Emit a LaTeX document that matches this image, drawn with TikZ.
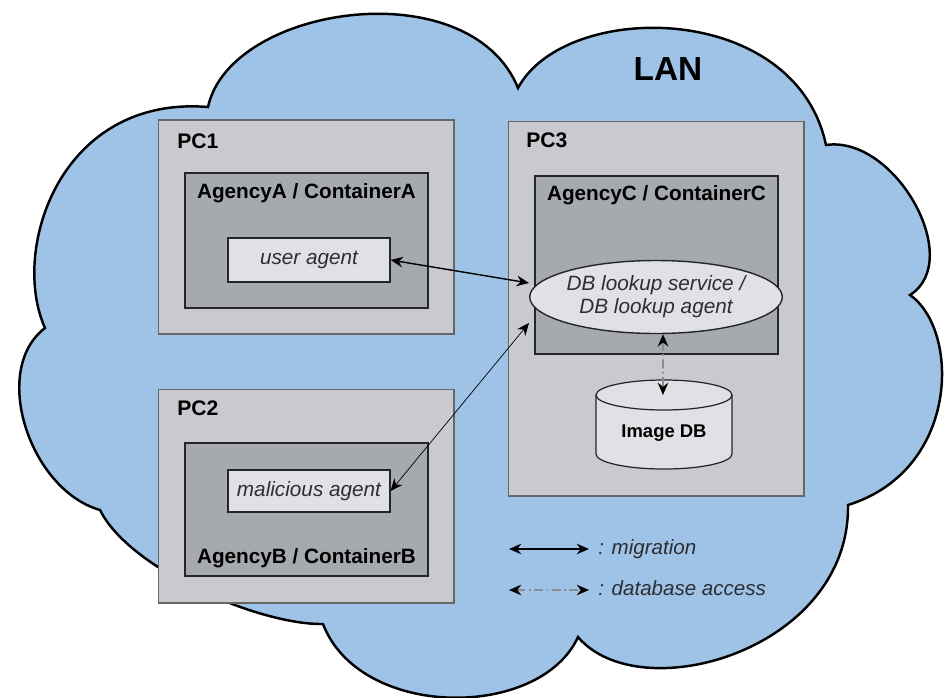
\documentclass[tikz,border=0pt]{standalone}
\usepackage{fontspec}
\setmainfont{Liberation Sans}
\usetikzlibrary{arrows.meta,shapes.geometric}

\definecolor{lanblue}{RGB}{158,195,230}
\definecolor{pcgray}{RGB}{200,202,206}
\definecolor{agencygray}{RGB}{166,169,173}
\definecolor{agentgray}{RGB}{224,225,229}
\definecolor{textgray}{RGB}{45,45,50}

\begin{document}
\begin{tikzpicture}[x=0.02cm, y=-0.02cm,
  pcbox/.style={draw=black!60, line width=0.6pt, fill=pcgray, inner sep=0pt},
  agencybox/.style={draw=black!85, line width=0.7pt, fill=agencygray, inner sep=0pt},
  agentbox/.style={draw=black!85, line width=0.7pt, fill=agentgray, inner sep=0pt,
    font=\fontsize{11.8}{14}\selectfont\itshape, text=textgray},
  pclabel/.style={inner sep=0pt, anchor=base west, font=\fontsize{12}{14}\selectfont\bfseries},
  boxlabel/.style={inner sep=0pt, anchor=base, font=\fontsize{11.8}{14}\selectfont\bfseries},
  migration/.style={line width=0.7pt, {Stealth[length=7pt,width=6pt]}-{Stealth[length=7pt,width=6pt]}},
  dbaccess/.style={line width=0.9pt, draw=black!45, dash pattern=on 5pt off 2pt on 1pt off 2pt,
    {Stealth[length=7pt,width=6pt,color=black]}-{Stealth[length=7pt,width=6pt,color=black]}},
  legendtext/.style={inner sep=0pt, anchor=base west, font=\fontsize{11.7}{14}\selectfont\itshape, text=textgray}]
  \useasboundingbox (0,0) rectangle (946,697);
  \fill[white] (0,0) rectangle (946,697);
  % -=-=-=-=- LAN CLOUD -=-=-=-=-
  \draw[line width=1.4pt, fill=lanblue]
    (208,107) .. controls (230,5) and (470,-30) .. (518,88)
    .. controls (565,0) and (795,0) .. (826,145)
    .. controls (895,135) and (965,260) .. (910,295)
    .. controls (960,330) and (960,470) .. (848,505)
    .. controls (850,650) and (640,710) .. (578,637)
    .. controls (540,720) and (360,720) .. (323,624)
    .. controls (260,625) and (130,570) .. (100,510)
    .. controls (30,490) and (-10,370) .. (45,328)
    .. controls (10,250) and (60,95) .. (208,107) -- cycle;
  \node[inner sep=0pt, anchor=base, font=\fontsize{19}{22}\selectfont\bfseries] (lan) at (668,80) {LAN};
  % -=-=-=-=- COMPUTERS -=-=-=-=-
  \node[pcbox, minimum width=5.92cm, minimum height=4.28cm] (pc1) at (306,227) {};
  \node[pcbox, minimum width=5.92cm, minimum height=4.28cm] (pc2) at (306,496) {};
  \node[pcbox, minimum width=5.92cm, minimum height=7.5cm] (pc3) at (656,308.5) {};
  \node[pclabel] (pc1lbl) at (177,148) {PC1};
  \node[pclabel] (pc2lbl) at (177,415) {PC2};
  \node[pclabel] (pc3lbl) at (526,147) {PC3};
  % -=-=-=-=- AGENCIES -=-=-=-=-
  \node[agencybox, minimum width=4.86cm, minimum height=2.7cm] (agA) at (306.5,240.5) {};
  \node[agencybox, minimum width=4.86cm, minimum height=2.66cm] (agB) at (306.5,509.5) {};
  \node[agencybox, minimum width=4.86cm, minimum height=3.56cm] (agC) at (656.5,265) {};
  \node[boxlabel] (agAlbl) at (306.5,198) {AgencyA / ContainerA};
  \node[boxlabel] (agBlbl) at (306.5,563) {AgencyB / ContainerB};
  \node[boxlabel] (agClbl) at (656.5,200) {AgencyC / ContainerC};
  % -=-=-=-=- AGENTS -=-=-=-=-
  \node[agentbox, minimum width=3.24cm, minimum height=0.88cm] (ua) at (309,260) {user agent};
  \node[agentbox, minimum width=3.24cm, minimum height=0.84cm] (ma) at (309,491) {malicious agent};
  \node[ellipse, draw=black!85, line width=0.8pt, fill=agentgray, inner sep=0pt,
    minimum width=4.84cm, minimum height=1.46cm, align=center, text=textgray,
    font=\fontsize{11.8}{13}\selectfont\itshape] (dbl) at (656,297) {DB lookup service /\\DB lookup agent};
  % -=-=-=-=- DATABASE -=-=-=-=-
  \filldraw[draw=black!85, line width=0.7pt, fill=agentgray]
    (596,395) -- (596,454) arc[start angle=180, end angle=360, x radius=1.36cm, y radius=0.3cm]
    -- (732,395) arc[start angle=0, end angle=180, x radius=1.36cm, y radius=0.3cm] -- cycle;
  \draw[black!85, line width=0.7pt] (596,395) arc[start angle=180, end angle=360, x radius=1.36cm, y radius=0.3cm];
  \node[inner sep=0pt, anchor=base, font=\fontsize{10.5}{12}\selectfont\bfseries] (imgdb) at (664,437) {Image DB};
  \coordinate (dbtop) at (663,395);
  % -=-=-=-=- CONNECTIONS -=-=-=-=-
  \draw[migration, line width=0.8pt] (ua.east) -- ([yshift=0.28cm]dbl.west);
  \draw[migration, line width=0.4pt] (ma.east) -- ([yshift=-0.52cm]dbl.west);
  \draw[dbaccess] ([xshift=0.14cm]dbl.south) -- (dbtop);
  % -=-=-=-=- LEGEND -=-=-=-=-
  \coordinate (migL) at (509,549);
  \coordinate (migR) at (589,549);
  \coordinate (dbaL) at (509,590);
  \coordinate (dbaR) at (589,590);
  \draw[migration] (migL) -- (migR);
  \draw[dbaccess] (dbaL) -- (dbaR);
  \node[legendtext] (migtxt) at (598,554) {: migration};
  \node[legendtext] (dbatxt) at (598,595) {: database access};
\end{tikzpicture}
\end{document}
